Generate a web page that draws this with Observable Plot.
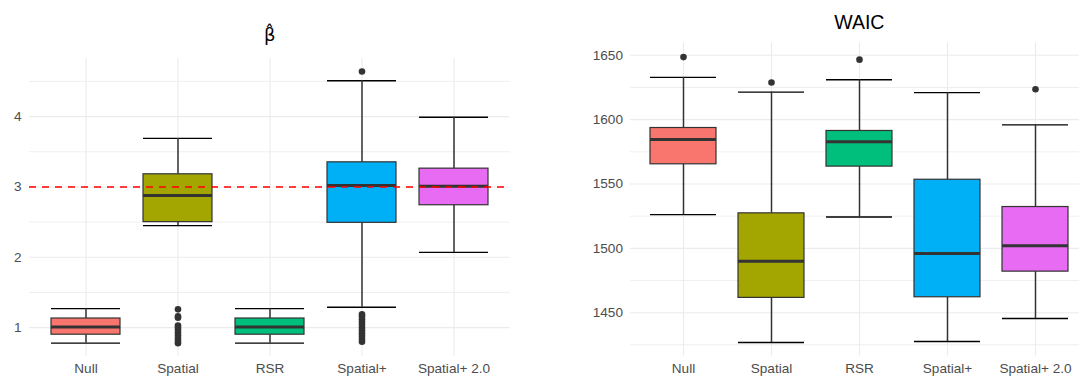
<!DOCTYPE html>
<html><head><meta charset="utf-8">
<script src="https://cdn.jsdelivr.net/npm/d3@7"></script>
<script src="https://cdn.jsdelivr.net/npm/@observablehq/plot@0.6"></script>
<style>
body{margin:0;background:#fff;}
#wrap{position:relative;width:1079px;height:377px;overflow:hidden;background:#fff;}
#left{position:absolute;left:0;top:0;width:540px;}
#right{position:absolute;left:540px;top:0;width:560px;}
#wrap svg{max-width:none !important;}
</style></head><body>
<div id="wrap"><div id="left"></div><div id="right"></div></div>
<script>
// Categories and colours
const cats = ["Null", "Spatial", "RSR", "Spatial+", "Spatial+ 2.0"];
const fills = ["#F8766D", "#A3A500", "#00BF7D", "#00B0F6", "#E76BF3"];

// Beta-hat boxplot summaries
const betaLower = [0.78, 2.45, 0.78, 1.29, 2.07];
const betaQ1    = [0.90, 2.50, 0.90, 2.49, 2.74];
const betaMed   = [1.01, 2.88, 1.01, 3.02, 3.01];
const betaQ3    = [1.13, 3.18, 1.13, 3.35, 3.26];
const betaUpper = [1.27, 3.69, 1.27, 4.51, 3.99];
const betaOutliers = [
  [],
  [1.26, 1.16, 1.14, 1.03, 1.00, 0.97, 0.93, 0.89, 0.85, 0.81, 0.78],
  [],
  [4.64, 1.19, 1.16, 1.12, 1.08, 1.04, 1.00, 0.96, 0.92, 0.88, 0.84, 0.80],
  []
];
const betaTicks = [1, 2, 3, 4];
const betaMinor = [1.5, 2.5, 3.5, 4.5];
const betaTrue = [3];

// WAIC boxplot summaries
const waicLower = [1526.2, 1426.8, 1524.4, 1427.6, 1445.5];
const waicQ1    = [1565.3, 1461.5, 1563.5, 1462.0, 1481.9];
const waicMed   = [1584.5, 1489.9, 1582.9, 1495.9, 1502.1];
const waicQ3    = [1593.5, 1527.2, 1591.2, 1553.3, 1532.1];
const waicUpper = [1632.8, 1621.4, 1631.0, 1621.0, 1595.9];
const waicOutliers = [[1648.6], [1628.9], [1646.6], [], [1623.6]];
const waicTicks = [1450, 1500, 1550, 1600, 1650];
const waicMinor = [1425, 1475, 1525, 1575, 1625];

const FONT = "'Liberation Sans', Arial, Helvetica, sans-serif";

function buildRows(lo, q1, med, q3, up) {
  return cats.map((c, i) => ({cat: c, lower: lo[i], q1: q1[i], med: med[i], q3: q3[i], upper: up[i]}));
}
function buildOut(outs) {
  const r = [];
  outs.forEach((arr, i) => arr.forEach(v => r.push({cat: cats[i], v})));
  return r;
}

function panel(o) {
  const rows = buildRows(o.lo, o.q1, o.med, o.q3, o.up);
  const outs = buildOut(o.outs);
  return Plot.plot({
    width: o.width, height: 377,
    marginTop: o.mt, marginBottom: o.mb, marginLeft: o.ml, marginRight: o.mr,
    style: {fontFamily: FONT, fontSize: "13.6px", color: "#4D4D4D", background: "white", overflow: "visible", maxWidth: "none"},
    x: {domain: cats, paddingInner: 0.25, paddingOuter: 0.225, axis: null},
    y: {domain: o.domain, axis: null},
    color: {domain: cats, range: fills},
    marks: [
      Plot.ruleY(o.minor, {stroke: "#EBEBEB", strokeWidth: 0.8}),
      Plot.gridY(o.ticks, {stroke: "#EBEBEB", strokeOpacity: 1, strokeWidth: 1.1}),
      Plot.gridX(cats, {stroke: "#EBEBEB", strokeOpacity: 1, strokeWidth: 1.1}),
      Plot.axisY(o.ticks, {tickSize: 0, tickPadding: o.tp, label: null, tickFormat: d => String(d)}),
      Plot.axisX(cats, {tickSize: 0, tickPadding: 7, label: null}),
      Plot.tickY(rows, {x: "cat", y: "upper", stroke: "black", strokeWidth: 1.4}),
      Plot.tickY(rows, {x: "cat", y: "lower", stroke: "black", strokeWidth: 1.4}),
      Plot.ruleX(rows, {x: "cat", y1: "lower", y2: "q1", stroke: "#333333", strokeWidth: 1.5}),
      Plot.ruleX(rows, {x: "cat", y1: "q3", y2: "upper", stroke: "#333333", strokeWidth: 1.5}),
      Plot.barY(rows, {x: "cat", y1: "q1", y2: "q3", fill: "cat", stroke: "#333333", strokeWidth: 1.2, inset: 0}),
      Plot.tickY(rows, {x: "cat", y: "med", stroke: "#333333", strokeWidth: 3}),
      Plot.dot(outs, {x: "cat", y: "v", r: 3.3, fill: "#333333", stroke: "none"}),
      ...o.extra
    ]
  });
}

document.getElementById("left").append(panel({
  width: 540, mt: 57.7, mb: 21, ml: 29, mr: 30.5, tp: 8,
  domain: [0.59, 4.83], ticks: betaTicks, minor: betaMinor,
  lo: betaLower, q1: betaQ1, med: betaMed, q3: betaQ3, up: betaUpper, outs: betaOutliers,
  extra: [
    Plot.ruleY(betaTrue, {stroke: "#FF0000", strokeWidth: 1.5, strokeDasharray: "7,6"}),
    Plot.text(["\u03B2\u0302"], {frameAnchor: "top", lineAnchor: "middle", dy: -22.5, fontSize: 18, fill: "black", fontFamily: "'DejaVu Sans', sans-serif"})
  ]
}));

document.getElementById("right").append(panel({
  width: 558, mt: 42.3, mb: 21.3, ml: 90, mr: 10.4, tp: 7.5,
  domain: [1416.2, 1659.7], ticks: waicTicks, minor: waicMinor,
  lo: waicLower, q1: waicQ1, med: waicMed, q3: waicQ3, up: waicUpper, outs: waicOutliers,
  extra: [
    Plot.text(["WAIC"], {frameAnchor: "top", lineAnchor: "middle", dy: -19.8, fontSize: 19.5, fill: "black"})
  ]
}));
</script>
</body></html>
